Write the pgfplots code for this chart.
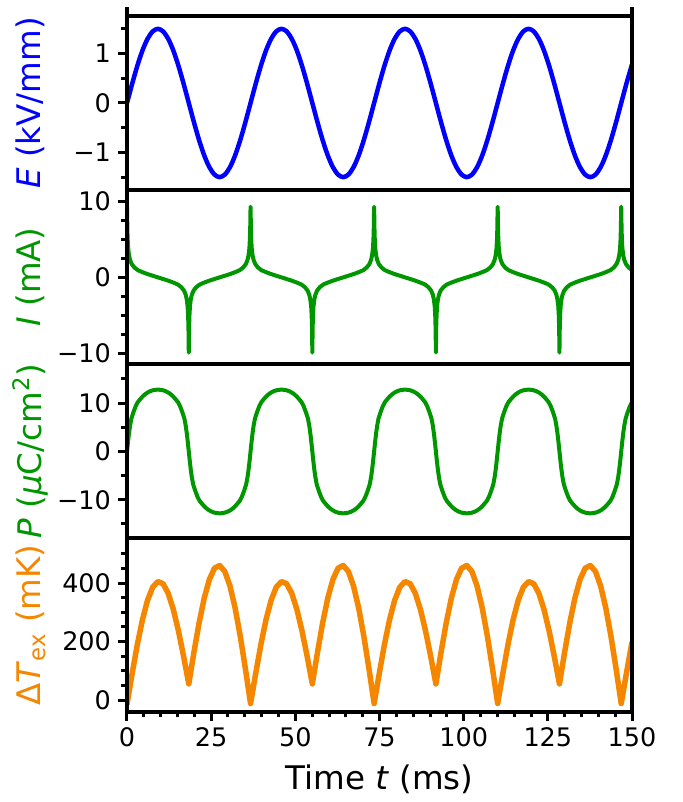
\documentclass[border=0pt]{standalone}
\usepackage{pgfplots}
\pgfplotsset{compat=1.18}
\usepackage{fontspec}
\setmainfont{DejaVu Sans}
\definecolor{eblue}{RGB}{0,0,255}
\definecolor{pgreen}{RGB}{0,150,0}
\definecolor{torange}{RGB}{245,135,0}
\pgfplotsset{panel/.style={
  scale only axis, width=252.5pt, height=87pt,
  xmin=0, xmax=150, clip=true, axis on top,
  axis line style={line width=2pt, line cap=rect},
  tick style={black, line width=1.5pt},
  minor tick style={black, line width=1.5pt},
  tick align=outside,
  major tick length=4.5pt, minor tick length=2.75pt,
  ytick pos=left, xtick pos=bottom,
  tick label style={font=\fontsize{12.75}{15}\selectfont, black},
  label style={font=\fontsize{16.25}{19}\selectfont},
  ylabel style={at={(axis description cs:-0.191,0.5)}, anchor=center},
  xlabel style={at={(axis description cs:0.5,-0.385)}, anchor=center},
  /pgf/number format/assume math mode=true,
}}
\begin{document}
\begin{tikzpicture}
\useasboundingbox (-63.5pt,-45pt) rectangle (278pt,356pt);
% ---------------- E panel
\begin{axis}[panel, at={(0,261pt)}, ymin=-1.76, ymax=1.76,
  ytick={-1,0,1}, yticklabels={\mbox{−1},\mbox{0},\mbox{1}},
  minor ytick={-1.5,-0.5,0.5,1.5}, xtick=\empty,
  ylabel={\textcolor{eblue}{\textit{E} (kV/mm)}}]
\addplot[eblue, line width=2.25pt, smooth, line join=round] coordinates {
(0,0) (1.529,0.388) (3.058,0.75) (4.588,1.061) (6.117,1.299) (7.646,1.449) (9.175,1.5) (10.704,1.449) (12.233,1.299) (13.763,1.061) (15.292,0.75) (16.821,0.388) (18.35,0) (19.879,-0.388) (21.408,-0.75) (22.938,-1.061) (24.467,-1.299) (25.996,-1.449) (27.525,-1.5) (29.054,-1.449) (30.583,-1.299) (32.113,-1.061) (33.642,-0.75) (35.171,-0.388)
(36.7,0) (38.229,0.388) (39.758,0.75) (41.288,1.061) (42.817,1.299) (44.346,1.449) (45.875,1.5) (47.404,1.449) (48.933,1.299) (50.463,1.061) (51.992,0.75) (53.521,0.388) (55.05,0) (56.579,-0.388) (58.108,-0.75) (59.638,-1.061) (61.167,-1.299) (62.696,-1.449) (64.225,-1.5) (65.754,-1.449) (67.283,-1.299) (68.813,-1.061) (70.342,-0.75) (71.871,-0.388)
(73.4,0) (74.929,0.388) (76.458,0.75) (77.988,1.061) (79.517,1.299) (81.046,1.449) (82.575,1.5) (84.104,1.449) (85.633,1.299) (87.163,1.061) (88.692,0.75) (90.221,0.388) (91.75,0) (93.279,-0.388) (94.808,-0.75) (96.338,-1.061) (97.867,-1.299) (99.396,-1.449) (100.925,-1.5) (102.454,-1.449) (103.983,-1.299) (105.513,-1.061) (107.042,-0.75) (108.571,-0.388)
(110.1,0) (111.629,0.388) (113.158,0.75) (114.688,1.061) (116.217,1.299) (117.746,1.449) (119.275,1.5) (120.804,1.449) (122.333,1.299) (123.863,1.061) (125.392,0.75) (126.921,0.388) (128.45,0) (129.979,-0.388) (131.508,-0.75) (133.038,-1.061) (134.567,-1.299) (136.096,-1.449) (137.625,-1.5) (139.154,-1.449) (140.683,-1.299) (142.213,-1.061) (143.742,-0.75) (145.271,-0.388)
(146.8,0) (148.329,0.388) (150,0.78)
};
\end{axis}
% ---------------- I panel
\begin{axis}[panel, at={(0,174pt)}, ymin=-11.4, ymax=11.5,
  ytick={-10,0,10}, yticklabels={\mbox{−10},\mbox{0},\mbox{10}},
  minor ytick={-7.5,-5,-2.5,2.5,5,7.5}, xtick=\empty,
  ylabel={\textcolor{pgreen}{\textit{I} (mA)}}]
\addplot[pgreen, line width=2pt, line join=round, line cap=round] coordinates {
(0,9.3) (0.05,8.0) (0.1,6.5) (0.2,5.0) (0.35,3.8) (0.6,2.9) (0.9,2.3) (1.4,1.75) (2.2,1.3) (3.2,0.95) (4.5,0.7) (6.0,0.45) (7.6,0.22) (9.175,0) (10.75,-0.22) (12.35,-0.45) (13.85,-0.7) (15.15,-0.95) (16.15,-1.3) (16.95,-1.75) (17.45,-2.3) (17.75,-2.9) (18.0,-3.8) (18.15,-5.0) (18.25,-6.5) (18.3,-8.0)
(18.35,-9.9) (18.4,-8.0) (18.45,-6.5) (18.55,-5.0) (18.7,-3.8) (18.95,-2.9) (19.25,-2.3) (19.75,-1.75) (20.55,-1.3) (21.55,-0.95) (22.85,-0.7) (24.35,-0.45) (25.95,-0.22) (27.525,0) (29.1,0.22) (30.7,0.45) (32.2,0.7) (33.5,0.95) (34.5,1.3) (35.3,1.75) (35.8,2.3) (36.1,2.9) (36.35,3.8) (36.5,5.0) (36.6,6.5) (36.65,8.0)
(36.7,9.3) (36.75,8.0) (36.8,6.5) (36.9,5.0) (37.05,3.8) (37.3,2.9) (37.6,2.3) (38.1,1.75) (38.9,1.3) (39.9,0.95) (41.2,0.7) (42.7,0.45) (44.3,0.22) (45.875,0) (47.45,-0.22) (49.05,-0.45) (50.55,-0.7) (51.85,-0.95) (52.85,-1.3) (53.65,-1.75) (54.15,-2.3) (54.45,-2.9) (54.7,-3.8) (54.85,-5.0) (54.95,-6.5) (55.0,-8.0)
(55.05,-9.9) (55.1,-8.0) (55.15,-6.5) (55.25,-5.0) (55.4,-3.8) (55.65,-2.9) (55.95,-2.3) (56.45,-1.75) (57.25,-1.3) (58.25,-0.95) (59.55,-0.7) (61.05,-0.45) (62.65,-0.22) (64.225,0) (65.8,0.22) (67.4,0.45) (68.9,0.7) (70.2,0.95) (71.2,1.3) (72.0,1.75) (72.5,2.3) (72.8,2.9) (73.05,3.8) (73.2,5.0) (73.3,6.5) (73.35,8.0)
(73.4,9.3) (73.45,8.0) (73.5,6.5) (73.6,5.0) (73.75,3.8) (74.0,2.9) (74.3,2.3) (74.8,1.75) (75.6,1.3) (76.6,0.95) (77.9,0.7) (79.4,0.45) (81.0,0.22) (82.575,0) (84.15,-0.22) (85.75,-0.45) (87.25,-0.7) (88.55,-0.95) (89.55,-1.3) (90.35,-1.75) (90.85,-2.3) (91.15,-2.9) (91.4,-3.8) (91.55,-5.0) (91.65,-6.5) (91.7,-8.0)
(91.75,-9.9) (91.8,-8.0) (91.85,-6.5) (91.95,-5.0) (92.1,-3.8) (92.35,-2.9) (92.65,-2.3) (93.15,-1.75) (93.95,-1.3) (94.95,-0.95) (96.25,-0.7) (97.75,-0.45) (99.35,-0.22) (100.925,0) (102.5,0.22) (104.1,0.45) (105.6,0.7) (106.9,0.95) (107.9,1.3) (108.7,1.75) (109.2,2.3) (109.5,2.9) (109.75,3.8) (109.9,5.0) (110.0,6.5) (110.05,8.0)
(110.1,9.3) (110.15,8.0) (110.2,6.5) (110.3,5.0) (110.45,3.8) (110.7,2.9) (111.0,2.3) (111.5,1.75) (112.3,1.3) (113.3,0.95) (114.6,0.7) (116.1,0.45) (117.7,0.22) (119.275,0) (120.85,-0.22) (122.45,-0.45) (123.95,-0.7) (125.25,-0.95) (126.25,-1.3) (127.05,-1.75) (127.55,-2.3) (127.85,-2.9) (128.1,-3.8) (128.25,-5.0) (128.35,-6.5) (128.4,-8.0)
(128.45,-9.9) (128.5,-8.0) (128.55,-6.5) (128.65,-5.0) (128.8,-3.8) (129.05,-2.9) (129.35,-2.3) (129.85,-1.75) (130.65,-1.3) (131.65,-0.95) (132.95,-0.7) (134.45,-0.45) (136.05,-0.22) (137.625,0) (139.2,0.22) (140.8,0.45) (142.3,0.7) (143.6,0.95) (144.6,1.3) (145.4,1.75) (145.9,2.3) (146.2,2.9) (146.45,3.8) (146.6,5.0) (146.7,6.5) (146.75,8.0)
(146.8,9.3) (146.85,8.0) (146.9,6.5) (147.0,5.0) (147.15,3.8) (147.4,2.9) (147.7,2.3) (148.2,1.75) (149.0,1.3) (150.0,0.95)
};
\end{axis}
% ---------------- P panel
\begin{axis}[panel, at={(0,87pt)}, ymin=-17.9, ymax=18.1,
  ytick={-10,0,10}, yticklabels={\mbox{−10},\mbox{0},\mbox{10}},
  minor ytick={-15,-5,5,15}, xtick=\empty,
  ylabel={\textcolor{pgreen}{\textit{P} (\textit{μ}C/cm\textsuperscript{2})}}]
\addplot[pgreen, line width=2pt, line join=round] coordinates {
(0,0) (0.3,2.0) (0.6,3.8) (0.9,5.3) (1.3,6.8) (1.9,8.1) (2.6,9.4) (3.2,10.2) (3.9,10.8) (4.6,11.35) (5.3,11.8) (6.0,12.15) (6.8,12.45) (7.6,12.65) (8.4,12.75) (9.175,12.8) (9.95,12.75) (10.75,12.65) (11.55,12.45) (12.35,12.15) (13.05,11.8) (13.75,11.35) (14.45,10.8) (15.15,10.2) (15.75,9.4) (16.45,8.1) (17.05,6.8) (17.45,5.3) (17.75,3.8) (18.05,2.0)
(18.35,0) (18.65,-2.0) (18.95,-3.8) (19.25,-5.3) (19.65,-6.8) (20.25,-8.1) (20.95,-9.4) (21.55,-10.2) (22.25,-10.8) (22.95,-11.35) (23.65,-11.8) (24.35,-12.15) (25.15,-12.45) (25.95,-12.65) (26.75,-12.75) (27.525,-12.8) (28.3,-12.75) (29.1,-12.65) (29.9,-12.45) (30.7,-12.15) (31.4,-11.8) (32.1,-11.35) (32.8,-10.8) (33.5,-10.2) (34.1,-9.4) (34.8,-8.1) (35.4,-6.8) (35.8,-5.3) (36.1,-3.8) (36.4,-2.0)
(36.7,0) (37.0,2.0) (37.3,3.8) (37.6,5.3) (38.0,6.8) (38.6,8.1) (39.3,9.4) (39.9,10.2) (40.6,10.8) (41.3,11.35) (42.0,11.8) (42.7,12.15) (43.5,12.45) (44.3,12.65) (45.1,12.75) (45.875,12.8) (46.65,12.75) (47.45,12.65) (48.25,12.45) (49.05,12.15) (49.75,11.8) (50.45,11.35) (51.15,10.8) (51.85,10.2) (52.45,9.4) (53.15,8.1) (53.75,6.8) (54.15,5.3) (54.45,3.8) (54.75,2.0)
(55.05,0) (55.35,-2.0) (55.65,-3.8) (55.95,-5.3) (56.35,-6.8) (56.95,-8.1) (57.65,-9.4) (58.25,-10.2) (58.95,-10.8) (59.65,-11.35) (60.35,-11.8) (61.05,-12.15) (61.85,-12.45) (62.65,-12.65) (63.45,-12.75) (64.225,-12.8) (65.0,-12.75) (65.8,-12.65) (66.6,-12.45) (67.4,-12.15) (68.1,-11.8) (68.8,-11.35) (69.5,-10.8) (70.2,-10.2) (70.8,-9.4) (71.5,-8.1) (72.1,-6.8) (72.5,-5.3) (72.8,-3.8) (73.1,-2.0)
(73.4,0) (73.7,2.0) (74.0,3.8) (74.3,5.3) (74.7,6.8) (75.3,8.1) (76.0,9.4) (76.6,10.2) (77.3,10.8) (78.0,11.35) (78.7,11.8) (79.4,12.15) (80.2,12.45) (81.0,12.65) (81.8,12.75) (82.575,12.8) (83.35,12.75) (84.15,12.65) (84.95,12.45) (85.75,12.15) (86.45,11.8) (87.15,11.35) (87.85,10.8) (88.55,10.2) (89.15,9.4) (89.85,8.1) (90.45,6.8) (90.85,5.3) (91.15,3.8) (91.45,2.0)
(91.75,0) (92.05,-2.0) (92.35,-3.8) (92.65,-5.3) (93.05,-6.8) (93.65,-8.1) (94.35,-9.4) (94.95,-10.2) (95.65,-10.8) (96.35,-11.35) (97.05,-11.8) (97.75,-12.15) (98.55,-12.45) (99.35,-12.65) (100.15,-12.75) (100.925,-12.8) (101.7,-12.75) (102.5,-12.65) (103.3,-12.45) (104.1,-12.15) (104.8,-11.8) (105.5,-11.35) (106.2,-10.8) (106.9,-10.2) (107.5,-9.4) (108.2,-8.1) (108.8,-6.8) (109.2,-5.3) (109.5,-3.8) (109.8,-2.0)
(110.1,0) (110.4,2.0) (110.7,3.8) (111.0,5.3) (111.4,6.8) (112.0,8.1) (112.7,9.4) (113.3,10.2) (114.0,10.8) (114.7,11.35) (115.4,11.8) (116.1,12.15) (116.9,12.45) (117.7,12.65) (118.5,12.75) (119.275,12.8) (120.05,12.75) (120.85,12.65) (121.65,12.45) (122.45,12.15) (123.15,11.8) (123.85,11.35) (124.55,10.8) (125.25,10.2) (125.85,9.4) (126.55,8.1) (127.15,6.8) (127.55,5.3) (127.85,3.8) (128.15,2.0)
(128.45,0) (128.75,-2.0) (129.05,-3.8) (129.35,-5.3) (129.75,-6.8) (130.35,-8.1) (131.05,-9.4) (131.65,-10.2) (132.35,-10.8) (133.05,-11.35) (133.75,-11.8) (134.45,-12.15) (135.25,-12.45) (136.05,-12.65) (136.85,-12.75) (137.625,-12.8) (138.4,-12.75) (139.2,-12.65) (140.0,-12.45) (140.8,-12.15) (141.5,-11.8) (142.2,-11.35) (142.9,-10.8) (143.6,-10.2) (144.2,-9.4) (144.9,-8.1) (145.5,-6.8) (145.9,-5.3) (146.2,-3.8) (146.5,-2.0)
(146.8,0) (147.1,2.0) (147.4,3.8) (147.7,5.3) (148.1,6.8) (148.7,8.1) (149.4,9.4) (150.0,10.2)
};
\end{axis}
% ---------------- Delta T panel
\begin{axis}[panel, at={(0,0)}, ymin=-41, ymax=554,
  ytick={0,200,400}, yticklabels={\mbox{0},\mbox{200},\mbox{400}},
  minor ytick={50,100,150,250,300,350,450,500},
  xtick={0,25,50,75,100,125,150},
  xticklabels={\mbox{0},\mbox{25},\mbox{50},\mbox{75},\mbox{100},\mbox{125},\mbox{150}},
  minor xtick={5,10,15,20,30,35,40,45,55,60,65,70,80,85,90,95,105,110,115,120,130,135,140,145},
  xlabel={Time \textit{t} (ms)},
  ylabel={\textcolor{torange}{Δ\textit{T}\textsubscript{ex} (mK)}}]
\addplot[torange, line width=2.75pt, line join=round] coordinates {
(0,-15) (1.529,90.5) (3.058,189.2) (4.588,274.7) (6.117,341.7) (7.646,386.1) (9.175,405) (10.704,397.7) (12.233,365.1) (13.763,309.7) (15.292,235.8) (16.821,148.8) (18.35,55) (19.879,162.9) (21.408,263.1) (22.938,348.4) (24.467,412.4) (25.996,450.7) (27.525,460) (29.054,439.5) (30.583,390.0) (32.113,314.9) (33.642,218.5) (35.171,107.1)
(36.7,-12) (38.229,90.5) (39.758,189.2) (41.288,274.7) (42.817,341.7) (44.346,386.1) (45.875,405) (47.404,397.7) (48.933,365.1) (50.463,309.7) (51.992,235.8) (53.521,148.8) (55.05,55) (56.579,162.9) (58.108,263.1) (59.638,348.4) (61.167,412.4) (62.696,450.7) (64.225,460) (65.754,439.5) (67.283,390.0) (68.813,314.9) (70.342,218.5) (71.871,107.1)
(73.4,-12) (74.929,90.5) (76.458,189.2) (77.988,274.7) (79.517,341.7) (81.046,386.1) (82.575,405) (84.104,397.7) (85.633,365.1) (87.163,309.7) (88.692,235.8) (90.221,148.8) (91.75,55) (93.279,162.9) (94.808,263.1) (96.338,348.4) (97.867,412.4) (99.396,450.7) (100.925,460) (102.454,439.5) (103.983,390.0) (105.513,314.9) (107.042,218.5) (108.571,107.1)
(110.1,-12) (111.629,90.5) (113.158,189.2) (114.688,274.7) (116.217,341.7) (117.746,386.1) (119.275,405) (120.804,397.7) (122.333,365.1) (123.863,309.7) (125.392,235.8) (126.921,148.8) (128.45,55) (129.979,162.9) (131.508,263.1) (133.038,348.4) (134.567,412.4) (136.096,450.7) (137.625,460) (139.154,439.5) (140.683,390.0) (142.213,314.9) (143.742,218.5) (145.271,107.1)
(146.8,-12) (148.329,90.5) (149.858,189.2) (150,197)
};
\end{axis}
\draw[line width=2pt] (0,348pt) -- (0,352.5pt);
\draw[line width=2pt] (252.5pt,348pt) -- (252.5pt,352.5pt);
\end{tikzpicture}
\end{document}
